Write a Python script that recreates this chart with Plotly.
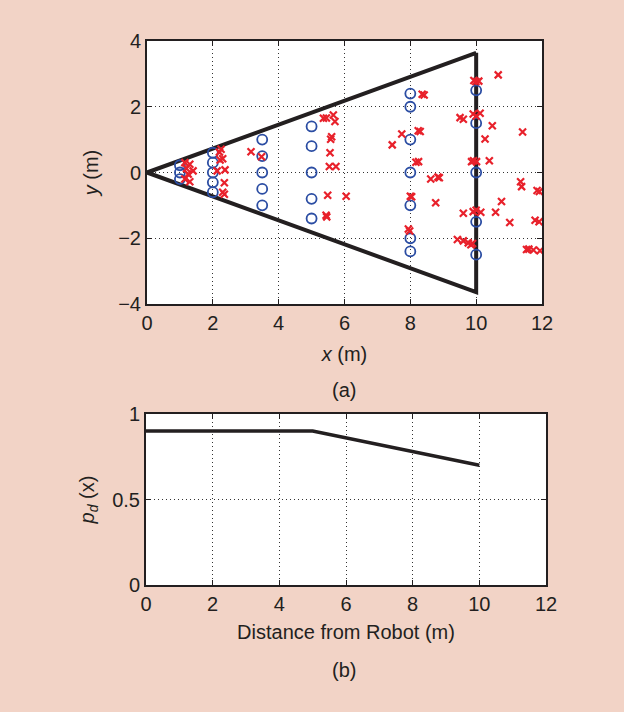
import plotly.graph_objects as go

# ---- data ----
# sensor field-of-view boundary (triangle)
fov_x = [10, 0, 10, 10]
fov_y = [3.64, 0, -3.64, 3.64]

# true target positions (blue circles)
target_x = [1, 1, 1,
            2, 2, 2, 2, 2,
            3.5, 3.5, 3.5, 3.5, 3.5,
            5, 5, 5, 5, 5,
            8, 8, 8, 8, 8, 8, 8,
            10, 10, 10, 10, 10]
target_y = [0.22, 0, -0.2,
            0.6, 0.3, 0, -0.3, -0.6,
            1.0, 0.5, 0, -0.5, -1.0,
            1.4, 0.8, 0, -0.8, -1.4,
            2.4, 2.0, 1.0, 0, -1.0, -2.0, -2.4,
            2.5, 1.5, 0, -1.5, -2.5]

# measurements (red crosses)
meas_x = [1.15, 1.3, 1.2, 1.4, 1.25, 1.15, 1.3,
          2.25, 2.2, 2.22, 2.3, 2.37, 2.13, 2.35, 2.35, 2.3,
          3.16, 3.48,
          5.36, 5.45, 5.66, 5.71, 5.61, 5.58, 5.56, 5.54, 5.74, 5.49, 6.05, 5.44, 5.46,
          7.45, 7.74, 8.36, 8.42, 8.24, 8.3, 8.17, 8.25, 8.62, 8.88, 8.84, 8.04, 8.0,
          7.94, 7.98, 8.77,
          9.51, 9.61, 9.99, 9.93, 10.08, 9.91, 10.12, 10.0, 9.86, 10.01, 9.92, 9.61,
          9.91, 10.14, 10.0, 9.43, 9.61, 9.76, 9.89, 9.84,
          10.67, 10.49, 10.27, 10.40, 11.41, 11.35, 11.38, 11.92, 11.85, 10.77, 10.59,
          11.02, 11.79, 11.91, 11.53, 11.6, 11.74, 11.94]
meas_y = [0.30, 0.25, 0.12, 0.05, -0.05, -0.2, -0.28,
          0.71, 0.62, 0.38, 0.42, 0.08, 0.05, -0.31, -0.66, -0.6,
          0.63, 0.48,
          1.65, 1.66, 1.75, 1.55, 1.09, 1.01, 0.6, 0.18, 0.18, -0.69, -0.72, -1.3, -1.35,
          0.84, 1.17, 2.38, 2.36, 1.27, 1.25, 0.31, 0.33, -0.2, -0.16, -0.14, -0.74, -0.72,
          -1.72, -1.78, -0.92,
          1.67, 1.62, 2.77, 2.8, 2.78, 1.78, 1.80, 1.72, 0.33, 0.33, 0.36, -1.24,
          -1.19, -1.21, -1.15, -2.04, -2.08, -2.14, -2.16, -2.2,
          2.97, 1.42, 1.02, 0.36, 1.23, -0.28, -0.43, -0.58, -0.55, -0.88, -1.21,
          -1.52, -1.45, -1.5, -2.34, -2.33, -2.36, -2.38]

# detection probability vs distance
dist = [0, 5, 10]
pd_vals = [0.9, 0.9, 0.7]

x_ticks = [0, 2, 4, 6, 8, 10, 12]
y_ticks_top = [-4, -2, 0, 2, 4]
y_ticks_bot = [0, 0.5, 1]
y_ticklabels_bot = ["0", "0.5", "1"]

# ---- styling ----
BG = "#F2D3C6"
INK = "#231F20"
FONT = "Liberation Sans, Arial, sans-serif"
FS = 20

fig = go.Figure()

fig.add_trace(go.Scatter(x=fov_x, y=fov_y, mode="lines",
                         line=dict(color=INK, width=4), xaxis="x", yaxis="y",
                         showlegend=False, hoverinfo="skip"))
fig.add_trace(go.Scatter(x=target_x, y=target_y, mode="markers",
                         marker=dict(symbol="circle-open", size=10,
                                     color="#2B4DA3", line=dict(width=1.8, color="#2B4DA3")),
                         xaxis="x", yaxis="y", showlegend=False))
fig.add_trace(go.Scatter(x=meas_x, y=meas_y, mode="markers",
                         marker=dict(symbol="x-thin-open", size=7,
                                     color="#E8212B", line=dict(width=2.2, color="#E8212B")),
                         xaxis="x", yaxis="y", showlegend=False))
fig.add_trace(go.Scatter(x=dist, y=pd_vals, mode="lines",
                         line=dict(color=INK, width=3.5), xaxis="x2", yaxis="y2",
                         showlegend=False))

axis_common = dict(showline=True, linecolor=INK, linewidth=2, mirror="allticks",
                   ticks="inside", ticklen=5, tickwidth=1, tickcolor=INK,
                   showgrid=True, gridcolor="#333333", gridwidth=1, griddash="1px,3px",
                   zeroline=False, tickfont=dict(family=FONT, size=FS, color=INK),
                   fixedrange=True, automargin=False)

title_font = dict(family=FONT, size=FS, color=INK)

fig.update_layout(
    width=624, height=712,
    paper_bgcolor=BG, plot_bgcolor="white",
    margin=dict(l=0, r=0, t=0, b=0, pad=0),
    font=dict(family=FONT, size=FS, color=INK),
    xaxis=dict(domain=[147/624, 542/624], range=[0, 12], tickvals=x_ticks,
               anchor="y", title=dict(text="<i>x</i> (m)", standoff=14, font=title_font),
               **axis_common),
    yaxis=dict(domain=[1-304/712, 1-41/712], range=[-4, 4], tickvals=y_ticks_top,
               anchor="x", title=dict(text="<i>y</i> (m)", standoff=14, font=title_font),
               **axis_common),
    xaxis2=dict(domain=[146/624, 546/624], range=[0, 12], tickvals=x_ticks,
                anchor="y2", title=dict(text="Distance from Robot (m)", standoff=11,
                                        font=title_font),
                **axis_common),
    yaxis2=dict(domain=[1-585/712, 1-414/712], range=[0, 1], tickvals=y_ticks_bot,
                ticktext=y_ticklabels_bot,
                anchor="x2", title=dict(text="<i>p</i><sub><i>d</i></sub> (x)", standoff=12,
                                        font=title_font),
                **axis_common),
    annotations=[
        dict(text="(a)", x=344/624, y=1-390/712, xref="paper", yref="paper",
             xanchor="center", yanchor="middle",
             showarrow=False, font=title_font),
        dict(text="(b)", x=344/624, y=1-670/712, xref="paper", yref="paper",
             xanchor="center", yanchor="middle",
             showarrow=False, font=title_font),
    ],
)

fig.write_html("out.html", config={"displayModeBar": False},
               post_script="document.body.style.margin='0';")
